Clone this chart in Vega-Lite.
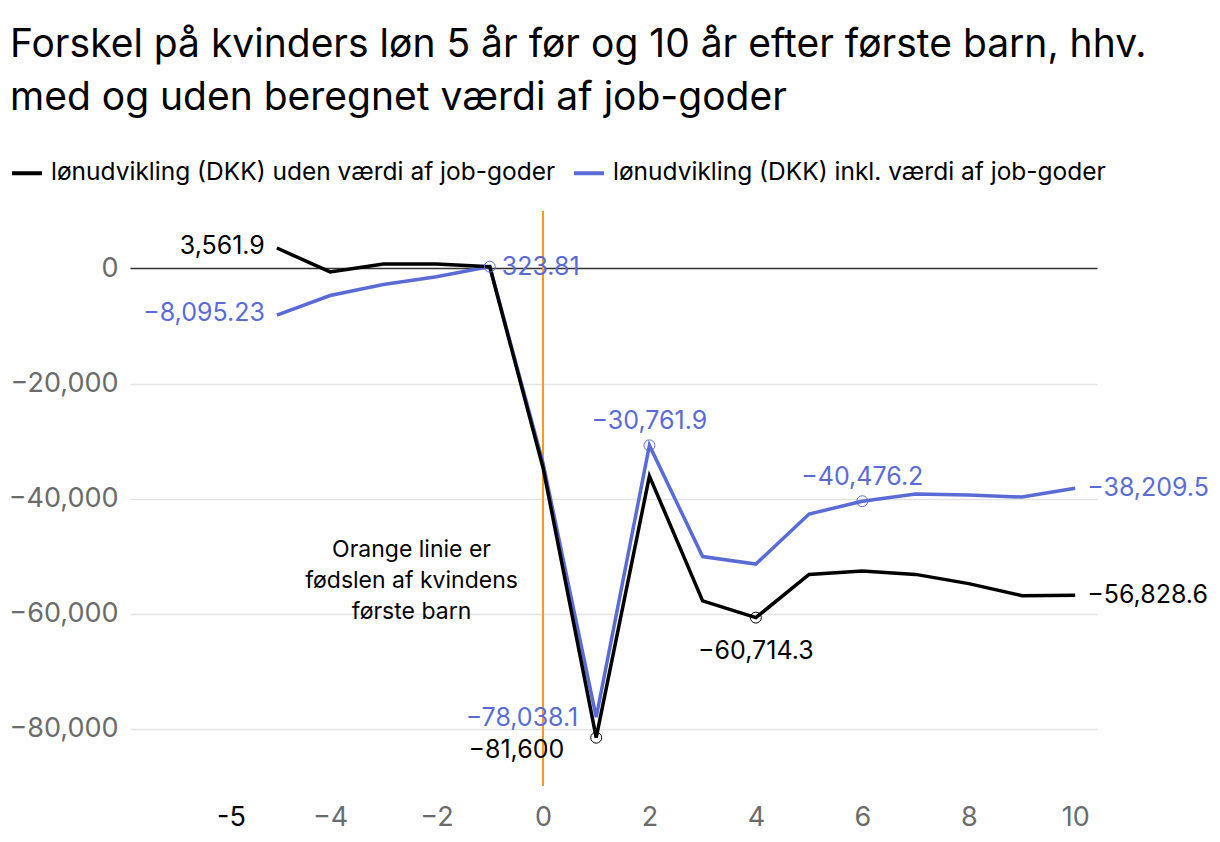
{
  "$schema": "https://vega.github.io/schema/vega-lite/v6.json",
  "width": 967,
  "height": 575,
  "autosize": {"type": "none"},
  "padding": {"left": 130, "top": 211, "right": 123, "bottom": 56},
  "background": "white",
  "config": {
    "font": "Inter",
    "view": {"stroke": null}
  },
  "title": {
    "text": ["Forskel på kvinders løn 5 år før og 10 år efter første barn, hhv.", "med og uden beregnet værdi af job-goder"],
    "anchor": "start",
    "frame": "group",
    "fontSize": 39,
    "fontWeight": "normal",
    "color": "#000000",
    "lineHeight": 53,
    "dx": -120,
    "offset": 38
  },
  "datasets": {
    "loen": [
      {"aar": -5, "serie": "uden", "vaerdi": 3561.9},
      {"aar": -4, "serie": "uden", "vaerdi": -600},
      {"aar": -3, "serie": "uden", "vaerdi": 800},
      {"aar": -2, "serie": "uden", "vaerdi": 800},
      {"aar": -1, "serie": "uden", "vaerdi": 300},
      {"aar": 0, "serie": "uden", "vaerdi": -34600},
      {"aar": 1, "serie": "uden", "vaerdi": -81600},
      {"aar": 2, "serie": "uden", "vaerdi": -36100},
      {"aar": 3, "serie": "uden", "vaerdi": -57800},
      {"aar": 4, "serie": "uden", "vaerdi": -60714.3},
      {"aar": 5, "serie": "uden", "vaerdi": -53200},
      {"aar": 6, "serie": "uden", "vaerdi": -52600},
      {"aar": 7, "serie": "uden", "vaerdi": -53200},
      {"aar": 8, "serie": "uden", "vaerdi": -54800},
      {"aar": 9, "serie": "uden", "vaerdi": -56900},
      {"aar": 10, "serie": "uden", "vaerdi": -56828.6},
      {"aar": -5, "serie": "inkl", "vaerdi": -8095.23},
      {"aar": -4, "serie": "inkl", "vaerdi": -4700},
      {"aar": -3, "serie": "inkl", "vaerdi": -2780},
      {"aar": -2, "serie": "inkl", "vaerdi": -1450},
      {"aar": -1, "serie": "inkl", "vaerdi": 323.81},
      {"aar": 0, "serie": "inkl", "vaerdi": -33800},
      {"aar": 1, "serie": "inkl", "vaerdi": -78038.1},
      {"aar": 2, "serie": "inkl", "vaerdi": -30761.9},
      {"aar": 3, "serie": "inkl", "vaerdi": -50100},
      {"aar": 4, "serie": "inkl", "vaerdi": -51400},
      {"aar": 5, "serie": "inkl", "vaerdi": -42700},
      {"aar": 6, "serie": "inkl", "vaerdi": -40476.2},
      {"aar": 7, "serie": "inkl", "vaerdi": -39200},
      {"aar": 8, "serie": "inkl", "vaerdi": -39400},
      {"aar": 9, "serie": "inkl", "vaerdi": -39750},
      {"aar": 10, "serie": "inkl", "vaerdi": -38209.5}
    ],
    "note": [
      {"aar": -2.47, "vaerdi": -48900, "tekst": ["Orange linie er", "fødslen af kvindens", "første barn"]}
    ],
    "foedsel": [
      {"aar": 0}
    ]
  },
  "encoding": {
    "x": {
      "field": "aar",
      "type": "quantitative",
      "scale": {"domain": [-7.76, 10.41], "nice": false, "zero": false},
      "axis": {
        "title": null,
        "values": [-5, -4, -2, 0, 2, 4, 6, 8, 10],
        "grid": false,
        "ticks": false,
        "domain": false,
        "labelFontSize": 27,
        "labelPadding": 18,
        "labelOverlap": false,
        "labelExpr": "datum.value == -5 ? '-5' : datum.label",
        "labelColor": {"condition": {"test": "datum.value == -5", "value": "#000000"}, "value": "#6b6b6b"},
        "labelOffset": {"condition": {"test": "datum.value == -5", "value": -46}, "value": 0}
      }
    },
    "y": {
      "field": "vaerdi",
      "type": "quantitative",
      "scale": {"domain": [-90000, 10000], "nice": false},
      "axis": {
        "title": null,
        "values": [-80000, -60000, -40000, -20000, 0],
        "format": ",.0f",
        "grid": true,
        "gridColor": {"condition": {"test": "datum.value == 0", "value": "#333333"}, "value": "#e3e3e3"},
        "gridWidth": 1.5,
        "ticks": false,
        "domain": false,
        "labelFontSize": 27,
        "labelColor": "#6b6b6b",
        "labelPadding": 12
      }
    }
  },
  "layer": [
    {
      "data": {"name": "foedsel"},
      "mark": {"type": "rule", "color": "#f39c1f", "strokeWidth": 2},
      "encoding": {"y": null}
    },
    {
      "data": {"name": "loen"},
      "transform": [{"filter": "datum.serie == 'inkl'"}],
      "mark": {"type": "line", "strokeWidth": 3.5},
      "encoding": {
        "color": {
          "field": "serie",
          "type": "nominal",
          "scale": {"domain": ["uden", "inkl"], "range": ["#000000", "#5b6bd6"]},
          "legend": {
            "title": null,
            "orient": "none",
            "legendX": -120,
            "legendY": -55,
            "direction": "horizontal",
            "symbolType": "stroke",
            "symbolSize": 900,
            "symbolStrokeWidth": 4,
            "labelFontSize": 24.5,
            "labelLimit": 0,
            "labelColor": "#000000",
            "labelOffset": 7,
            "columnPadding": 10,
            "labelExpr": "datum.value == 'uden' ? 'lønudvikling (DKK) uden værdi af job-goder' : 'lønudvikling (DKK) inkl. værdi af job-goder'"
          }
        }
      }
    },
    {
      "data": {"name": "loen"},
      "transform": [{"filter": "datum.serie == 'uden'"}],
      "mark": {"type": "line", "strokeWidth": 3.5},
      "encoding": {
        "color": {"field": "serie", "type": "nominal"}
      }
    },
    {
      "data": {"name": "loen"},
      "transform": [{"filter": "(datum.serie == 'inkl' && (datum.aar == -1 || datum.aar == 2 || datum.aar == 6)) || (datum.serie == 'uden' && (datum.aar == 1 || datum.aar == 4))"}],
      "mark": {"type": "point", "filled": false, "size": 120, "strokeWidth": 1, "opacity": 1},
      "encoding": {
        "color": {"field": "serie", "type": "nominal"}
      }
    },
    {
      "data": {"name": "loen"},
      "transform": [{"filter": "datum.aar == -5"}],
      "mark": {"type": "text", "align": "right", "baseline": "middle", "dx": -12, "dy": -2, "fontSize": 25},
      "encoding": {
        "text": {"field": "vaerdi", "type": "quantitative", "format": ","},
        "color": {"field": "serie", "type": "nominal"}
      }
    },
    {
      "data": {"name": "loen"},
      "transform": [{"filter": "datum.aar == 10 || (datum.aar == -1 && datum.serie == 'inkl')"}],
      "mark": {"type": "text", "align": "left", "baseline": "middle", "dx": 12, "fontSize": 25},
      "encoding": {
        "text": {"field": "vaerdi", "type": "quantitative", "format": ","},
        "color": {"field": "serie", "type": "nominal"}
      }
    },
    {
      "data": {"name": "loen"},
      "transform": [{"filter": "datum.serie == 'inkl' && (datum.aar == 2 || datum.aar == 6)"}],
      "mark": {"type": "text", "align": "center", "baseline": "middle", "dy": -24, "fontSize": 25},
      "encoding": {
        "text": {"field": "vaerdi", "type": "quantitative", "format": ","},
        "color": {"field": "serie", "type": "nominal"}
      }
    },
    {
      "data": {"name": "loen"},
      "transform": [{"filter": "datum.serie == 'uden' && datum.aar == 4"}],
      "mark": {"type": "text", "align": "center", "baseline": "middle", "dy": 33, "fontSize": 25},
      "encoding": {
        "text": {"field": "vaerdi", "type": "quantitative", "format": ","},
        "color": {"field": "serie", "type": "nominal"}
      }
    },
    {
      "data": {"name": "loen"},
      "transform": [{"filter": "datum.serie == 'inkl' && datum.aar == 1"}],
      "mark": {"type": "text", "align": "right", "baseline": "middle", "dx": -18, "dy": 1, "fontSize": 25},
      "encoding": {
        "text": {"field": "vaerdi", "type": "quantitative", "format": ","},
        "color": {"field": "serie", "type": "nominal"}
      }
    },
    {
      "data": {"name": "loen"},
      "transform": [{"filter": "datum.serie == 'uden' && datum.aar == 1"}],
      "mark": {"type": "text", "align": "right", "baseline": "middle", "dx": -32, "dy": 12, "fontSize": 25},
      "encoding": {
        "text": {"field": "vaerdi", "type": "quantitative", "format": ","},
        "color": {"field": "serie", "type": "nominal"}
      }
    },
    {
      "data": {"name": "note"},
      "mark": {"type": "text", "align": "center", "baseline": "middle", "fontSize": 23, "lineHeight": 31, "color": "#000000"},
      "encoding": {
        "text": {"field": "tekst"}
      }
    }
  ]
}
